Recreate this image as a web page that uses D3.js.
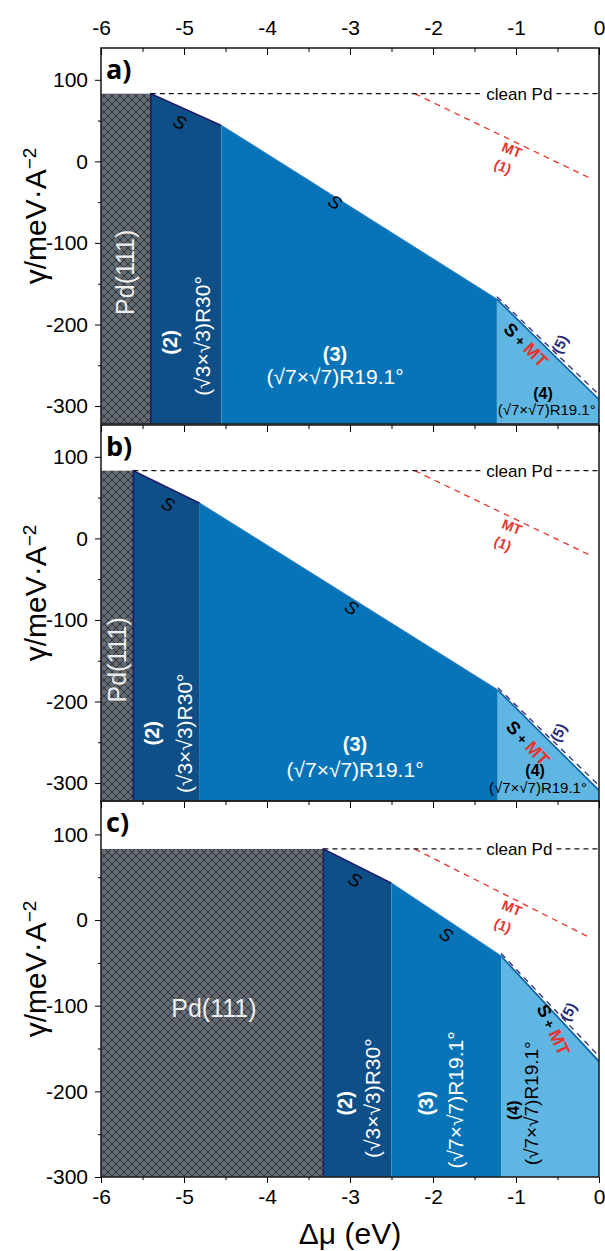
<!DOCTYPE html>
<html>
<head>
<meta charset="utf-8">
<script src="https://cdn.jsdelivr.net/npm/d3@7"></script>
<style>
body { margin: 0; background: #fff; }
text { font-family: "Liberation Sans", Arimo, Arial, sans-serif; }
</style>
</head>
<body>
<svg width="605" height="1251"></svg>
<script>
// ---- data ----
var panelNames = ["a)", "b)", "c)"];
var muTicks = [-6, -5, -4, -3, -2, -1, 0];
var muMinor = [-5.5, -4.5, -3.5, -2.5, -1.5, -0.5];
var gammaTicks = [100, 0, -100, -200, -300];
var gammaMinor = [50, -50, -150, -250];
var gammaMin = [-322, -322, -300];
var gammaMax = 139;
var gammaClean = 83;                       // clean Pd(111)

// phase boundaries (eV) and gamma at each boundary
var pdEdge = [-5.40, -5.61, -3.32];
var edge23 = [-4.55, -4.81, -2.50];
var edge34 = [-1.23, -1.22, -1.18];
var gamma23 = [44, 43, 43];
var gamma34 = [-169, -186, -42];
var gammaZero = [-292, -309, -165];

// MT (1) line and (5) line
var mtMu = [-2.22, -0.1];
var mtGamma = [83, -21];
var line5Start = [-166, -183, -39];
var line5End = [-286, -303, -159];

// annotation anchors (eV, gamma)
var pdLabel = [[-5.71, -136], [-5.81, -149], [-4.64, -103]];
var n2Label = [[-5.17, -222], [-5.39, -239], [-3.06, -214]];
var d2Label = [[-4.77, -214], [-4.99, -239], [-2.73, -208]];
var n3Label = [[-3.18, -236], [-2.94, -252], [-2.08, -214]];
var d3Label = [[-3.18, -264], [-2.94, -283], [-1.73, -210]];
var n4Label = [[-0.675, -285], [-0.77, -284], [-1.03, -222]];
var d4Label = [[-0.63, -304], [-0.735, -306], [-0.82, -214]];
var sLabel1 = [[-5.05, 48], [-5.19, 42], [-2.94, 47]];
var sLabel2 = [[-3.18, -50], [-2.98, -85], [-1.84, -17]];
var smtLabel = [[-0.88, -225], [-0.855, -251], [-0.55, -128]];
var smtAngle = [45, 47, 65];
var fiveLabel = [[-0.47, -224], [-0.49, -238], [-0.37, -107]];
var mtLabel = [-1.05, 14];
var oneLabel = [-1.16, -6.5];
var cleanLabelMu = -0.96;

var regionColors = ["#0e4f87", "#0874b8", "#5fb6e3"];

// ---- layout ----
var svg = d3.select("svg"),
    left = 101, right = 599,
    panelTop = [48, 425, 801],
    panelH = 376;

var x = d3.scaleLinear().domain([-6, 0]).range([left, right]);

var defs = svg.append("defs");
var pat = defs.append("pattern")
    .attr("id", "hatch")
    .attr("patternUnits", "userSpaceOnUse")
    .attr("width", 8).attr("height", 8);
pat.append("rect").attr("width", 8).attr("height", 8).attr("fill", "#656b72");
pat.append("path").attr("d", "M0,0L8,8M8,0L0,8")
    .attr("stroke", "#1a1d21").attr("stroke-width", 0.75);

function addText(g, px, py, txt, size, opts) {
  opts = opts || {};
  var t = g.append("text")
      .attr("transform", "translate(" + px + "," + py + ") rotate(" + (opts.rotate || 0) + ")")
      .attr("text-anchor", "middle")
      .attr("dy", "0.35em")
      .style("font-size", size + "px")
      .style("fill", opts.fill || "#000")
      .style("font-weight", opts.bold ? "bold" : "normal")
      .style("font-style", opts.italic ? "italic" : "normal")
      .text(txt);
  return t;
}

panelNames.forEach(function(name, i) {
  var y = d3.scaleLinear().domain([gammaMin[i], gammaMax]).range([panelTop[i] + panelH, panelTop[i]]);
  var g = svg.append("g");
  var bottom = gammaMin[i];

  // Pd(111) hatched area
  g.append("rect")
    .attr("x", x(-6)).attr("y", y(gammaClean))
    .attr("width", x(pdEdge[i]) - x(-6))
    .attr("height", y(bottom) - y(gammaClean))
    .attr("fill", "url(#hatch)");

  // phase regions
  var bounds = [[pdEdge[i], gammaClean], [edge23[i], gamma23[i]], [edge34[i], gamma34[i]], [0, gammaZero[i]]];
  regionColors.forEach(function(c, k) {
    var p0 = bounds[k], p1 = bounds[k + 1];
    g.append("path")
      .attr("d", d3.line()([[x(p0[0]), y(bottom)], [x(p0[0]), y(p0[1])], [x(p1[0]), y(p1[1])], [x(p1[0]), y(bottom)]]) + "Z")
      .attr("fill", c);
  });

  // boundary lines
  g.append("path")
    .attr("d", d3.line()([[x(pdEdge[i]), y(bottom)], [x(pdEdge[i]), y(gammaClean)], [x(edge23[i]), y(gamma23[i])]]))
    .attr("fill", "none").attr("stroke", "#1c1d6b").attr("stroke-width", 1.6);
  g.append("path")
    .attr("d", d3.line()([[x(edge23[i]), y(gamma23[i])], [x(edge34[i]), y(gamma34[i])]]))
    .attr("fill", "none").attr("stroke", "#1f7cc0").attr("stroke-width", 1.2);
  g.append("path")
    .attr("d", d3.line()([[x(edge34[i]), y(gamma34[i])], [x(0), y(gammaZero[i])]]))
    .attr("fill", "none").attr("stroke", "#0b5e9e").attr("stroke-width", 1.6);

  // (5) dashed line
  g.append("path")
    .attr("d", d3.line()([[x(edge34[i]), y(line5Start[i])], [x(0), y(line5End[i])]]))
    .attr("fill", "none").attr("stroke", "#2b2a7a").attr("stroke-width", 1.3)
    .attr("stroke-dasharray", "6,5");

  // MT (1) dashed red line
  g.append("path")
    .attr("d", d3.line()(mtMu.map(function(m, k) { return [x(m), y(mtGamma[k])]; })))
    .attr("fill", "none").attr("stroke", "#e8342c").attr("stroke-width", 1.3)
    .attr("stroke-dasharray", "6,5");

  // clean Pd line with label
  var cl = addText(g, x(cleanLabelMu), y(gammaClean), "clean Pd", 17);
  var bb = cl.node().getBBox();
  var gapL = x(cleanLabelMu) - bb.width / 2 - 5, gapR = x(cleanLabelMu) + bb.width / 2 + 4;
  g.append("path")
    .attr("d", d3.line()([[x(pdEdge[i]), y(gammaClean)], [gapL, y(gammaClean)]]))
    .attr("stroke", "#111").attr("stroke-width", 1.3).attr("stroke-dasharray", "5,4");
  g.append("path")
    .attr("d", d3.line()([[gapR, y(gammaClean)], [x(0), y(gammaClean)]]))
    .attr("stroke", "#111").attr("stroke-width", 1.3).attr("stroke-dasharray", "5,4");

  // labels
  addText(g, x(pdLabel[i][0]), y(pdLabel[i][1]), "Pd(111)", 25, {fill: "#eeeeee", rotate: i < 2 ? -90 : 0});
  addText(g, x(n2Label[i][0]), y(n2Label[i][1]), "(2)", 20, {fill: "#fff", bold: true, rotate: -90});
  addText(g, x(d2Label[i][0]), y(d2Label[i][1]), "(\u221A3\u00D7\u221A3)R30\u00B0", 21, {fill: "#fff", rotate: -90});
  addText(g, x(n3Label[i][0]), y(n3Label[i][1]), "(3)", 20, {fill: "#fff", bold: true, rotate: i < 2 ? 0 : -90});
  addText(g, x(d3Label[i][0]), y(d3Label[i][1]), "(\u221A7\u00D7\u221A7)R19.1\u00B0", 21, {fill: "#fff", rotate: i < 2 ? 0 : -90});
  addText(g, x(n4Label[i][0]), y(n4Label[i][1]), "(4)", 16, {bold: true, rotate: i < 2 ? 0 : -90});
  addText(g, x(d4Label[i][0]), y(d4Label[i][1]), "(\u221A7\u00D7\u221A7)R19.1\u00B0", i < 2 ? 15 : 19, {rotate: i < 2 ? 0 : -90});

  var ang1 = Math.atan2(y(gamma23[i]) - y(gammaClean), x(edge23[i]) - x(pdEdge[i])) * 180 / Math.PI;
  var ang2 = Math.atan2(y(gamma34[i]) - y(gamma23[i]), x(edge34[i]) - x(edge23[i])) * 180 / Math.PI;
  addText(g, x(sLabel1[i][0]), y(sLabel1[i][1]), "S", 18, {italic: true, rotate: ang1});
  addText(g, x(sLabel2[i][0]), y(sLabel2[i][1]), "S", 18, {italic: true, rotate: ang2});

  var smt = addText(g, x(smtLabel[i][0]), y(smtLabel[i][1]), "", 18, {bold: true, rotate: smtAngle[i]});
  smt.append("tspan").text("S");
  smt.append("tspan").style("font-size", "14px").text(" + ");
  smt.append("tspan").style("fill", "#e8342c").text("MT");

  addText(g, x(fiveLabel[i][0]), y(fiveLabel[i][1]), "(5)", 15, {fill: "#2b2a7a", bold: true, rotate: -62});
  addText(g, x(mtLabel[0]), y(mtLabel[1]), "MT", 14, {fill: "#e8342c", bold: true, rotate: 22});
  addText(g, x(oneLabel[0]), y(oneLabel[1]), "(1)", 14, {fill: "#e8342c", bold: true, rotate: 22});

  // frame
  g.append("rect")
    .attr("x", left).attr("y", panelTop[i])
    .attr("width", right - left).attr("height", panelH)
    .attr("fill", "none").attr("stroke", "#222").attr("stroke-width", 1.6);

  // panel letter
  g.append("text")
    .attr("x", left + 5).attr("y", panelTop[i] + 31)
    .style("font-family", "'Open Sans', 'DejaVu Sans', sans-serif")
    .style("font-size", "27px").style("font-weight", "bold")
    .text(name);

  // y axis
  var ya = g.append("g").attr("transform", "translate(" + left + ",0)")
    .call(d3.axisLeft(y).tickValues(gammaTicks).tickSize(6).tickPadding(7).tickFormat(function(d) { return String(d); }));
  ya.select(".domain").remove();
  ya.selectAll("text").style("font-size", "21px").style("font-family", "'Liberation Sans', Arimo, Arial, sans-serif");
  var yb = g.append("g").attr("transform", "translate(" + left + ",0)")
    .call(d3.axisLeft(y).tickValues(gammaMinor).tickSize(3).tickFormat(""));
  yb.select(".domain").remove();

  // top ticks (inward)
  var ta = g.append("g").attr("transform", "translate(0," + panelTop[i] + ")")
    .call(d3.axisTop(x).tickValues(muTicks).tickSize(-7).tickPadding(13)
      .tickFormat(i === 0 ? function(d) { return String(d); } : ""));
  ta.select(".domain").remove();
  ta.selectAll("text").style("font-size", "21px").style("font-family", "'Liberation Sans', Arimo, Arial, sans-serif");
  var tb = g.append("g").attr("transform", "translate(0," + panelTop[i] + ")")
    .call(d3.axisTop(x).tickValues(muMinor).tickSize(-4).tickFormat(""));
  tb.select(".domain").remove();

  // y title
  var yt = g.append("text")
    .attr("transform", "translate(46," + (panelTop[i] + panelH / 2 - 20) + ") rotate(-90)")
    .attr("text-anchor", "middle")
    .style("font-size", "30px");
  yt.append("tspan").text("\u03B3/meV\u00B7A");
  yt.append("tspan").attr("dy", "-0.55em").style("font-size", "19px").text("\u22122");

  if (i === 2) {
    var ba = g.append("g").attr("transform", "translate(0," + (panelTop[i] + panelH) + ")")
      .call(d3.axisBottom(x).tickValues(muTicks).tickSize(6).tickPadding(6).tickFormat(function(d) { return String(d); }));
    ba.select(".domain").remove();
    ba.selectAll("text").style("font-size", "21px").style("font-family", "'Liberation Sans', Arimo, Arial, sans-serif");
    var bm = g.append("g").attr("transform", "translate(0," + (panelTop[i] + panelH) + ")")
      .call(d3.axisBottom(x).tickValues(muMinor).tickSize(3).tickFormat(""));
    bm.select(".domain").remove();
  }
});

svg.append("text")
  .attr("x", (left + right) / 2).attr("y", 1244)
  .attr("text-anchor", "middle")
  .style("font-size", "30px")
  .text("\u0394\u03BC (eV)");
</script>
</body>
</html>
